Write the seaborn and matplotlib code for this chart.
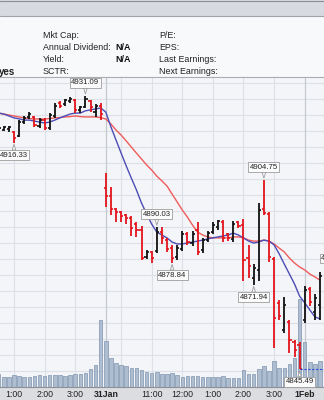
import matplotlib
matplotlib.use("Agg")
import matplotlib.pyplot as plt
import matplotlib.transforms as mtransforms
from matplotlib.patches import Rectangle
from matplotlib.lines import Line2D
import pandas as pd
import seaborn as sns

# ---------------- data ----------------
# 10-minute bars; index 0 = 30 Jan 1:00 pm, 18 = 31 Jan 9:30, 57 = 1 Feb 9:30
bar_index = list(range(-3, 61))
opens = [4920.31, 4920.31, 4920.63, 4919.69, 4918.44, 4922.81, 4924.38, 4924.38, 4921.56, 4923.44,
         4920.94, 4924.69, 4928.75, 4928.44, 4929.38, 4929.69, 4926.56, 4927.50, 4929.38, 4925.94,
         4927.81, 4902.19, 4899.69, 4895.63, 4894.69, 4893.75, 4892.81, 4890.94, 4889.06, 4880.63,
         4882.19, 4882.50, 4888.44, 4885.94, 4883.44, 4880.63, 4883.13, 4887.81, 4885.00, 4889.06,
         4882.81, 4885.94, 4888.44, 4890.00, 4891.56, 4887.81, 4886.25, 4891.56, 4890.63, 4880.31,
         4874.06, 4876.56, 4895.63, 4894.06, 4880.00, 4866.25, 4857.81, 4860.31, 4854.06, 4853.13,
         4860.94, 4870.63, 4863.44, 4865.63]
highs = [4921.25, 4921.56, 4921.56, 4920.00, 4923.44, 4924.69, 4925.94, 4924.69, 4924.06, 4924.06,
         4925.63, 4928.75, 4929.38, 4930.00, 4930.63, 4930.00, 4927.81, 4931.09, 4929.69, 4928.44,
         4928.75, 4906.88, 4902.50, 4895.94, 4895.00, 4894.06, 4893.44, 4891.56, 4890.31, 4882.81,
         4882.50, 4890.03, 4890.00, 4886.56, 4884.38, 4884.38, 4888.75, 4888.44, 4888.75, 4891.56,
         4886.56, 4888.75, 4891.56, 4892.19, 4892.19, 4888.13, 4891.88, 4891.88, 4892.50, 4884.38,
         4878.44, 4897.50, 4904.75, 4894.69, 4880.63, 4867.19, 4868.13, 4860.94, 4854.69, 4854.06,
         4871.56, 4871.25, 4869.06, 4875.94]
lows = [4920.00, 4920.00, 4919.69, 4916.33, 4918.13, 4922.19, 4923.75, 4921.25, 4920.94, 4920.31,
        4920.31, 4924.06, 4927.19, 4927.81, 4928.75, 4925.63, 4925.63, 4927.19, 4925.94, 4924.38,
        4923.44, 4896.25, 4893.75, 4891.56, 4891.56, 4890.94, 4887.19, 4886.88, 4879.69, 4880.00,
        4878.75, 4881.88, 4884.69, 4882.19, 4878.84, 4879.69, 4882.50, 4884.38, 4884.06, 4881.25,
        4881.88, 4885.31, 4887.81, 4889.06, 4885.31, 4885.63, 4885.31, 4889.69, 4873.13, 4874.06,
        4871.94, 4873.13, 4893.75, 4879.06, 4852.19, 4860.94, 4856.88, 4850.63, 4849.38, 4845.49,
        4860.00, 4865.31, 4860.94, 4860.94]
closes = [4920.94, 4921.25, 4921.25, 4917.81, 4922.81, 4924.06, 4925.31, 4921.88, 4923.44, 4920.94,
          4925.00, 4927.81, 4927.81, 4929.69, 4930.00, 4926.56, 4927.50, 4930.00, 4927.50, 4927.81,
          4925.31, 4899.69, 4895.63, 4894.69, 4893.44, 4892.81, 4889.69, 4889.06, 4880.31, 4882.19,
          4880.31, 4888.44, 4886.56, 4883.13, 4880.31, 4883.44, 4887.81, 4885.31, 4887.81, 4882.19,
          4885.94, 4888.13, 4890.63, 4891.88, 4886.56, 4886.56, 4890.94, 4890.31, 4879.69, 4877.81,
          4877.19, 4895.31, 4894.38, 4880.63, 4861.56, 4862.19, 4865.63, 4854.69, 4851.56, 4845.63,
          4870.31, 4866.56, 4867.81, 4874.69]
volume = [13, 10, 10, 12, 11, 10, 10, 11, 12, 11,
          12, 12, 12, 11, 12, 13, 13, 14, 18, 22,
          67, 46, 29, 24, 22, 21, 19, 19, 17, 15,
          14, 15, 13, 13, 14, 12, 10, 11, 11, 11,
          10, 10, 10, 10, 11, 9, 9, 9, 17, 13,
          13, 18, 21, 16, 26, 19, 19, 23, 29, 88,
          45, 25, 23, 26]
ma_fast = [4925.6, 4925.3, 4924.7, 4924.1, 4923.8, 4923.4, 4923.4, 4923.1, 4922.8, 4922.5,
           4922.8, 4923.4, 4924.1, 4924.7, 4925.3, 4925.6, 4925.6, 4926.3, 4926.6, 4926.9,
           4927.2, 4925.9, 4921.3, 4917.2, 4913.1, 4909.1, 4905.3, 4901.6, 4897.5, 4894.1,
           4890.9, 4888.4, 4887.5, 4886.6, 4885.3, 4884.7, 4884.7, 4885.0, 4885.3, 4885.6,
           4885.9, 4886.3, 4886.6, 4886.9, 4887.2, 4887.5, 4888.1, 4887.5, 4886.6, 4885.6,
           4885.0, 4885.3, 4885.9, 4885.6, 4884.4, 4881.6, 4878.4, 4875.3, 4872.2, 4868.4,
           4866.3, 4864.1, 4861.9, 4861.3]
ma_slow = [4925.6, 4925.3, 4925.0, 4924.7, 4924.4, 4924.1, 4923.9, 4923.75, 4923.75, 4923.75,
           4923.9, 4924.1, 4924.2, 4924.4, 4924.5, 4924.7, 4924.5, 4924.4, 4924.4, 4924.4,
           4924.2, 4923.75, 4922.2, 4920.3, 4918.75, 4916.9, 4915.0, 4913.1, 4911.25, 4909.4,
           4907.8, 4905.9, 4904.4, 4902.8, 4900.3, 4897.8, 4895.3, 4893.1, 4890.6, 4888.4,
           4887.5, 4886.9, 4886.6, 4886.6, 4886.6, 4886.6, 4886.9, 4886.9, 4886.6, 4885.9,
           4885.6, 4885.6, 4885.9, 4885.6, 4884.7, 4883.4, 4882.2, 4880.3, 4878.75, 4877.5,
           4876.6, 4875.3, 4874.4, 4873.4]
tick_pos = [0, 6, 12, 18, 27, 33, 39, 45, 51, 57]
tick_labels = ["1:00", "2:00", "3:00", "31Jan", "11:00", "12:00", "1:00", "2:00", "3:00", "1Feb"]
bold_ticks = ["31Jan", "1Feb"]
grid_x = [0, 6, 12, 18, 21, 27, 33, 39, 45, 51, 57]
day_breaks = [18, 57]
grid_prices = list(range(4840, 4940, 5))
high_label_idx = [14, 28, 49, 63]
high_label_val = [4931.09, 4890.03, 4904.75, 4876.25]
low_label_idx = [0, 31, 47, 56]
low_label_val = [4916.33, 4878.84, 4871.94, 4845.49]
last_low_idx = 56
last_low_val = 4845.49
header_left = ["Mkt Cap:", "Annual Dividend:", "Yield:", "SCTR:"]
header_left_val = ["", "N/A", "N/A", ""]
header_right = ["P/E:", "EPS:", "Last Earnings:", "Next Earnings:"]
title_tail = "yes"

# ---------------- styling ----------------
sns.set_style("white")
plt.rcParams["font.family"] = ["Liberation Sans", "DejaVu Sans"]

W, H = 324, 400
def fy(px):
    return 1 - px / H

fig = plt.figure(figsize=(3.24, 4.0), dpi=100)
fig.patch.set_facecolor("#f8f9fa")

# top band
fig.add_artist(Rectangle((0, fy(16)), 1, 16 / H, transform=fig.transFigure,
                         fc="#d7dadf", ec="none", zorder=0))
fig.add_artist(Line2D([0, 1], [fy(16), fy(16)], transform=fig.transFigure, color="#9ea3aa", lw=0.8))
fig.add_artist(Line2D([0, 1], [fy(0.5), fy(0.5)], transform=fig.transFigure, color="#8a8f96", lw=0.8))
# bottom axis band
fig.add_artist(Rectangle((0, 0), 1, 13 / H, transform=fig.transFigure,
                         fc="#dcdde0", ec="none", zorder=0))

# header text
rows_y = [35, 47.5, 60, 72]
for k in range(4):
    fig.text(43 / W, fy(rows_y[k]), header_left[k], fontsize=6.4, color="#222222", va="center", ha="left")
    if header_left_val[k]:
        fig.text(115 / W, fy(rows_y[k]), header_left_val[k], fontsize=6.4, color="#111111",
                 va="center", ha="left", fontweight="bold")
    fig.text(159 / W, fy(rows_y[k]), header_right[k], fontsize=6.4, color="#222222", va="center", ha="left")
fig.text(-1 / W, fy(72), title_tail, fontsize=7, fontweight="bold", color="#222222", va="center", ha="left")

# axes
ax_v = fig.add_axes([0, 13 / H, 1, (387 - 77) / H])
ax_p = ax_v.twinx()
ax_v.set_zorder(1)
ax_p.set_zorder(2)
ax_p.patch.set_visible(False)
ax_v.set_facecolor("#f4f5f8")

x_lo, x_hi = -14 / 5.1, 310 / 5.1
ax_v.set_xlim(x_lo, x_hi)
ax_p.set_ylim(4840.0, 4936.875)
ax_v.set_ylim(0, 310)

# grid (drawn on the bottom axes so volume bars stay above it)
blend = mtransforms.blended_transform_factory(ax_v.transAxes, ax_p.transData)
for gp in grid_prices:
    ax_v.add_line(Line2D([0, 1], [gp, gp], transform=blend, color="#dde0e6", lw=0.8, zorder=0.5))
for gx in grid_x:
    c = "#c4c8cf" if gx in day_breaks else "#dde0e6"
    ax_v.axvline(gx, color=c, lw=0.9 if gx in day_breaks else 0.8, zorder=0.5)

df = pd.DataFrame({"i": bar_index, "open": opens, "high": highs, "low": lows,
                   "close": closes, "vol": volume, "fast": ma_fast, "slow": ma_slow})

# volume bars
sns.barplot(data=df, x="i", y="vol", native_scale=True, ax=ax_v, color="#a9bcd4",
            edgecolor="#7f95b0", linewidth=0.5, width=0.68, errorbar=None, zorder=1)
ax_v.set_xlim(x_lo, x_hi)
ax_v.set_ylim(0, 310)

# moving averages
sns.lineplot(data=df, x="i", y="slow", ax=ax_p, color="#ef5b5b", lw=1.0, zorder=2)
sns.lineplot(data=df, x="i", y="fast", ax=ax_p, color="#4c4cb6", lw=1.0, zorder=2)

# OHLC bars
cols = ["#e3141b" if c < o else "#111111" for o, c in zip(df["open"], df["close"])]
ax_p.vlines(df["i"], df["low"], df["high"], colors=cols, lw=1.3, zorder=3)
ax_p.hlines(df["open"], df["i"] - 0.42, df["i"], colors=cols, lw=1.2, zorder=3)
ax_p.hlines(df["close"], df["i"], df["i"] + 0.42, colors=cols, lw=1.2, zorder=3)

# dashed line from the last low
ax_p.hlines(last_low_val, last_low_idx, x_hi + 1, colors="#2b4fd8", lw=0.8,
            linestyles=(0, (2, 1.5)), zorder=3)

box = dict(boxstyle="square,pad=0.18", fc="#fbfbfb", ec="#9c9c9c", lw=0.6)
arrow = dict(arrowstyle="wedge,tail_width=0.45,shrink_factor=0.5", fc="#fbfbfb", ec="#9c9c9c",
             lw=0.6, shrinkA=0, shrinkB=1.2)
for i, v in zip(high_label_idx, high_label_val):
    ax_p.annotate(f"{v:.2f}", xy=(i, v), xytext=(0, 6.5), textcoords="offset points",
                  ha="center", va="bottom", fontsize=5.6, color="#222222", bbox=box,
                  arrowprops=arrow, annotation_clip=False, zorder=5)
for i, v in zip(low_label_idx, low_label_val):
    ax_p.annotate(f"{v:.2f}", xy=(i, v), xytext=(0, -6.5), textcoords="offset points",
                  ha="center", va="top", fontsize=5.6, color="#222222", bbox=box,
                  arrowprops=arrow, annotation_clip=False, zorder=5)

# axes cosmetics
for a in (ax_v, ax_p):
    for s in a.spines.values():
        s.set_visible(False)
    a.set_xlabel("")
    a.set_ylabel("")
ax_p.set_yticks([])
ax_v.set_yticks([])
ax_v.set_xticks(tick_pos)
ax_v.set_xticklabels(tick_labels)
ax_v.tick_params(axis="x", length=0, pad=2.0, labelsize=6.3, labelcolor="#222222")
for t in ax_v.get_xticklabels():
    if t.get_text() in bold_ticks:
        t.set_fontweight("bold")
ax_v.spines["top"].set_visible(True)
ax_v.spines["top"].set_color("#a9adb3")
ax_v.spines["top"].set_linewidth(0.8)
ax_v.spines["bottom"].set_visible(True)
ax_v.spines["bottom"].set_color("#8d9197")
ax_v.spines["bottom"].set_linewidth(0.8)

fig.savefig("out.png", dpi=100, facecolor=fig.get_facecolor())
